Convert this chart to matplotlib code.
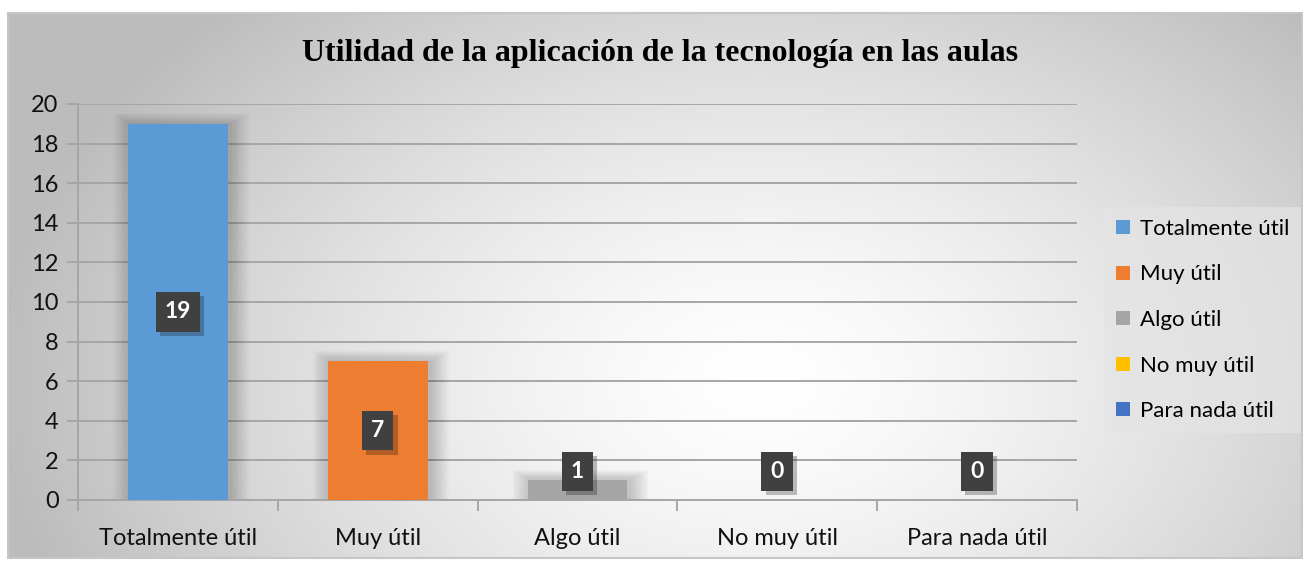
import numpy as np
import matplotlib
matplotlib.use("Agg")
import matplotlib.pyplot as plt
import matplotlib.patheffects as pe
from matplotlib.patches import Rectangle, Patch

# ── data ──────────────────────────────────────────────────────────────────────
categories = ["Totalmente útil", "Muy útil", "Algo útil", "No muy útil", "Para nada útil"]
values = [19, 7, 1, 0, 0]
colors = ["#5B9BD5", "#ED7D31", "#A5A5A5", "#FFC000", "#4472C4"]
y_ticks = list(range(0, 21, 2))
title = "Utilidad de la aplicación de la tecnología en las aulas"

W, H = 1303, 561
FONT = "Lato"
fig = plt.figure(figsize=(W / 100, H / 100), dpi=100)

# ── background: radial gray gradient inside a thin frame ─────────────────────
bg = fig.add_axes([0, 0, 1, 1], zorder=0)
bg.set_axis_off()
yy, xx = np.mgrid[0:H, 0:W]
r = np.sqrt(((xx - 760) / 760) ** 2 + ((yy - 380) / 520) ** 2)
shade = 1.0 - 0.26 * np.clip(r, 0, 1) ** 1.4
img = np.dstack([shade, shade, shade])
img[:13, :, :] = 1.0
img[559:, :, :] = 1.0
img[:, :8, :] = 1.0
bg.imshow(img, extent=(0, W, H, 0), aspect="auto", interpolation="bilinear")
bg.add_patch(Rectangle((8, 13), W - 9, 545, fill=False, edgecolor="#c6c6c6", lw=1.5))
bg.set_xlim(0, W)
bg.set_ylim(H, 0)

# ── main axes ────────────────────────────────────────────────────────────────
ax = fig.add_axes([78 / W, 1 - 500 / H, 999 / W, 396 / H], zorder=2)
ax.patch.set_alpha(0)
x = np.arange(len(categories))

# soft diffuse shadow behind bars
for xi, v in zip(x, values):
    if v > 0:
        for k in np.linspace(0.005, 0.09, 10):
            ax.bar(xi + 0.015, v + k * 6, width=0.5 + 2 * k, color="black", alpha=0.018, zorder=2)
ax.bar(x, values, width=0.5, color=colors, zorder=3)

ax.set_xlim(-0.5, len(categories) - 0.5)
ax.set_ylim(0, 20)
ax.set_yticks(y_ticks)
ax.set_yticklabels([str(t) for t in y_ticks], fontsize=17, family=FONT, color="#111111")
ax.yaxis.grid(True, color="#a6a6a6", lw=1.4, zorder=1)
ax.set_axisbelow(True)

# category boundary ticks on x axis
ax.set_xticks(np.arange(-0.5, len(categories), 1.0))
ax.set_xticklabels([])
ax.set_xticks(x, minor=True)
ax.set_xticklabels(categories, minor=True, fontsize=17, family=FONT, color="#111111")
ax.tick_params(axis="x", which="major", length=8, color="#a6a6a6", width=1.4, direction="out")
ax.tick_params(axis="x", which="minor", length=0, pad=20)
ax.tick_params(axis="y", length=8, color="#a6a6a6", width=1.4, pad=6)

for s in ["top", "right"]:
    ax.spines[s].set_visible(False)
for s in ["left", "bottom"]:
    ax.spines[s].set_color("#a6a6a6")
    ax.spines[s].set_linewidth(1.4)

# ── data labels in dark boxes ────────────────────────────────────────────────
for xi, v in zip(x, values):
    ly = max(v / 2, 1.45)
    t = ax.text(xi, ly, str(v), ha="center", va="center", fontsize=16.5, fontweight="bold",
                family=FONT, color="white", zorder=5,
                bbox=dict(boxstyle="square,pad=0.4", facecolor="#404040", edgecolor="none"))
    t.get_bbox_patch().set_path_effects(
        [pe.withSimplePatchShadow(offset=(3, -3), shadow_rgbFace="black", alpha=0.25), pe.Normal()])

# ── title ────────────────────────────────────────────────────────────────────
fig.text(660 / W, 1 - 53 / H, title, ha="center", va="center",
         fontsize=23, fontweight="bold", family="Liberation Serif", color="black")

# ── legend ───────────────────────────────────────────────────────────────────
handles = [Patch(facecolor=c, edgecolor="none") for c in colors]
leg = fig.legend(handles, categories, loc="center left", bbox_to_anchor=(1104 / W, 1 - 320 / H),
                 frameon=True, fancybox=False, prop={"family": FONT, "size": 16},
                 handlelength=0.6, handleheight=0.6, handletextpad=0.45, labelspacing=1.15,
                 borderpad=0.55, borderaxespad=0)
leg.get_frame().set_facecolor("#e4e4e4")
leg.get_frame().set_edgecolor("none")
leg.get_frame().set_alpha(0.7)
leg.set_zorder(3)

fig.savefig("out.png", dpi=100)
